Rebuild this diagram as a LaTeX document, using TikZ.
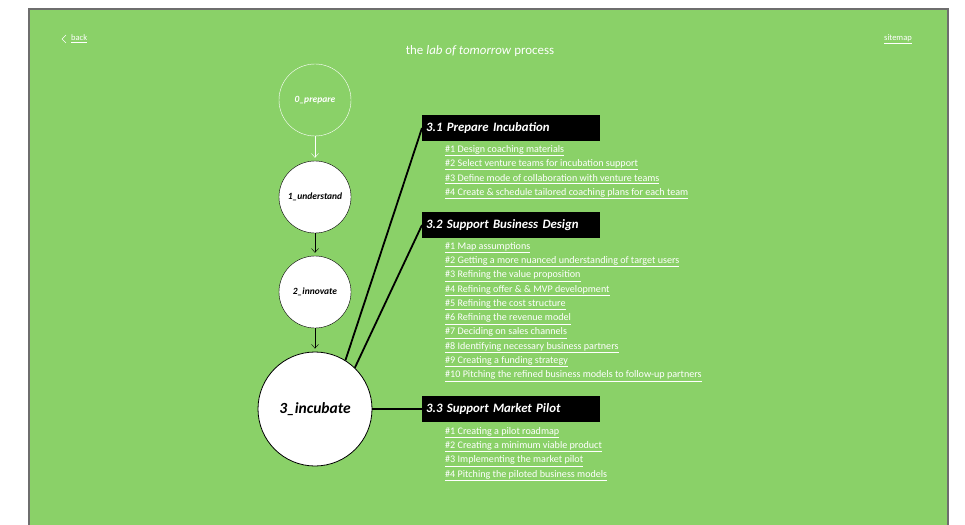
\documentclass[tikz,border=0pt]{standalone}
\usepackage{fontspec}
\setmainfont{Carlito}
\usetikzlibrary{positioning, arrows.meta}
\definecolor{labgreen}{HTML}{8AD168}
\definecolor{frameGray}{HTML}{6E6E6E}

\tikzset{
  phase/.style={circle, draw=black, fill=white, inner sep=0pt, minimum size=72pt,
    font=\bfseries\itshape\fontsize{9.5}{9.5}\selectfont},
  head/.style={fill=black, text=white, anchor=west, text width=170pt, align=left,
    inner xsep=4pt, minimum height=26pt, font=\bfseries\itshape\fontsize{12.8}{12.8}\selectfont},
  item/.style={text=white, anchor=west, inner sep=0pt, font=\fontsize{10.1}{10.1}\selectfont},
  link/.style={line width=1.8pt},
  flow/.style={-{Straight Barb[length=4pt, width=7pt]}, shorten >=3pt}
}

\begin{document}
\begin{tikzpicture}[x=1pt, y=-1pt]
    \useasboundingbox (0,0) rectangle (965,524);
    \filldraw[fill=labgreen, draw=frameGray, line width=2pt] (29,9) rectangle (948,540);

    \draw[white, thin] (66,35) -- (62,39) -- (66,43);
    \node[item, font=\fontsize{8.5}{8.5}\selectfont] (back) at (71,39) {\underline{back}};
    \node[item, anchor=east, font=\fontsize{8.5}{8.5}\selectfont] (sitemap) at (912,39) {\underline{sitemap}};
    \node[text=white, font=\fontsize{12.9}{12.9}\selectfont] (title) at (480,51) {the \textit{lab of tomorrow} process};

    \node[phase, draw=white, fill=none, text=white] (prepare) at (315,100) {0\_prepare};
    \node[phase] (understand) at (315,197) {1\_understand};
    \node[phase] (innovate) at (315,292) {2\_innovate};
    \node[phase, thick, minimum size=114pt, font=\bfseries\itshape\fontsize{15.5}{15.5}\selectfont] (incubate) at (315,409) {3\_incubate};

    \draw[flow, white] (prepare) -- (understand);
    \draw[flow] (understand) -- (innovate);
    \draw[flow] (innovate) -- (incubate);

    \node[head] (prep) at (422,128) {3.1 Prepare Incubation};
    \node[head] (design) at (422,225) {3.2 Support Business Design};
    \node[head] (pilot) at (422,409) {3.3 Support Market Pilot};

    \draw[link] (incubate.58) -- (prep.west);
    \draw[link] (incubate.46) -- (design.west);
    \draw[link] (incubate) -- (pilot.west);

    \foreach \t [count=\i] in {
        \#1 Design coaching materials,
        \#2 Select venture teams for incubation support,
        \#3 Define mode of collaboration with venture teams,
        \#4 Create \& schedule tailored coaching plans for each team}
      \node[item] (prep\i) at (445,{150.5+14.3*(\i-1)}) {\underline{\t}};

    \foreach \t [count=\i] in {
        \#1 Map assumptions,
        \#2 Getting a more nuanced understanding of target users,
        \#3 Refining the value proposition,
        \#4 Refining offer \& \& MVP development,
        \#5 Refining the cost structure,
        \#6 Refining the revenue model,
        \#7 Deciding on sales channels,
        \#8 Identifying necessary business partners,
        \#9 Creating a funding strategy,
        \#10 Pitching the refined business models to follow-up partners}
      \node[item] (design\i) at (445,{247.5+14.3*(\i-1)}) {\underline{\t}};

    \foreach \t [count=\i] in {
        \#1 Creating a pilot roadmap,
        \#2 Creating a minimum viable product,
        \#3 Implementing the market pilot,
        \#4 Pitching the piloted business models}
      \node[item] (pilot\i) at (445,{432.5+14.3*(\i-1)}) {\underline{\t}};
\end{tikzpicture}
\end{document}
